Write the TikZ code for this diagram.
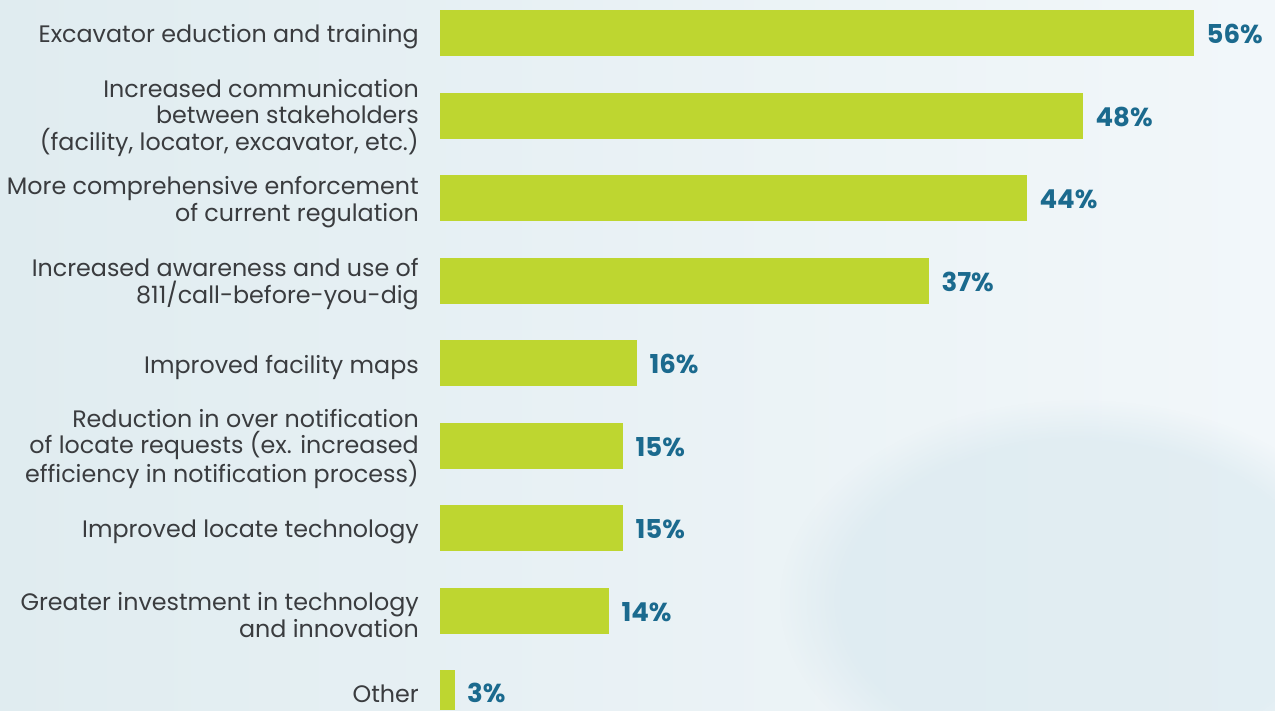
\documentclass[tikz,border=0pt]{standalone}
\usepackage{fontspec}
\usetikzlibrary{fadings}
\setmainfont{Poppins}
\definecolor{barcol}{HTML}{BED630}
\definecolor{pctcol}{HTML}{1B6A8E}
\definecolor{txtcol}{HTML}{3A3C3F}
\definecolor{bgA}{HTML}{E0ECF0}
\definecolor{bgB}{HTML}{F2F7FA}
\definecolor{bgC}{HTML}{D6E7EE}
\tikzset{
  bar/.style={fill=barcol, draw=none, minimum height=46pt, inner sep=0pt, anchor=north west},
  pct/.style={text=pctcol, font=\fontsize{26}{28}\selectfont\bfseries, anchor=west, inner sep=0pt},
  lbl/.style={text=txtcol, font=\fontsize{23.8}{26.5}\selectfont, align=right, anchor=east, inner sep=0pt}
}
\begin{document}
\begin{tikzpicture}[x=1pt,y=-1pt]
\useasboundingbox (0,0) rectangle (1275,710);
\shade[left color=bgA, right color=bgB] (0,0) rectangle (1275,710);
\fill[bgC, opacity=0.55, path fading=circle with fuzzy edge 20 percent] (1080,600) ellipse (300 and 200);
\foreach \i/\w/\p in {0/754/56, 1/643/48, 2/587/44, 3/489/37, 4/197/16, 5/183/15, 6/183/15, 7/169/14}{
  \node[bar, minimum width=\w pt] (b\i) at (440,{10+82.5*\i}) {};
  \node[pct] (p\i) at ([xshift=12pt,yshift=-1pt]b\i.east) {\p\%};
}
\node[bar, minimum width=15pt, minimum height=40pt] (b8) at (440,670) {};
\node[pct] (p8) at (467,693) {3\%};
\node[lbl] (l0) at (419,37) {Excavator eduction and training};
\node[lbl] (l1) at (419,118) {Increased communication\\ between stakeholders\\ (facility, locator, excavator, etc.)};
\node[lbl] (l2) at (419,202) {More comprehensive enforcement\\ of current regulation};
\node[lbl] (l3) at (419,284) {Increased awareness and use of\\ 811/call-before-you-dig};
\node[lbl] (l4) at (419,367) {Improved facility maps};
\node[lbl] (l5) at (419,449) {Reduction in over notification\\ of locate requests (ex. increased\\ efficiency in notification process)};
\node[lbl] (l6) at (419,532) {Improved locate technology};
\node[lbl] (l7) at (419,615) {Greater investment in technology\\ and innovation};
\node[lbl] (l8) at (419,694) {Other};
\end{tikzpicture}
\end{document}
